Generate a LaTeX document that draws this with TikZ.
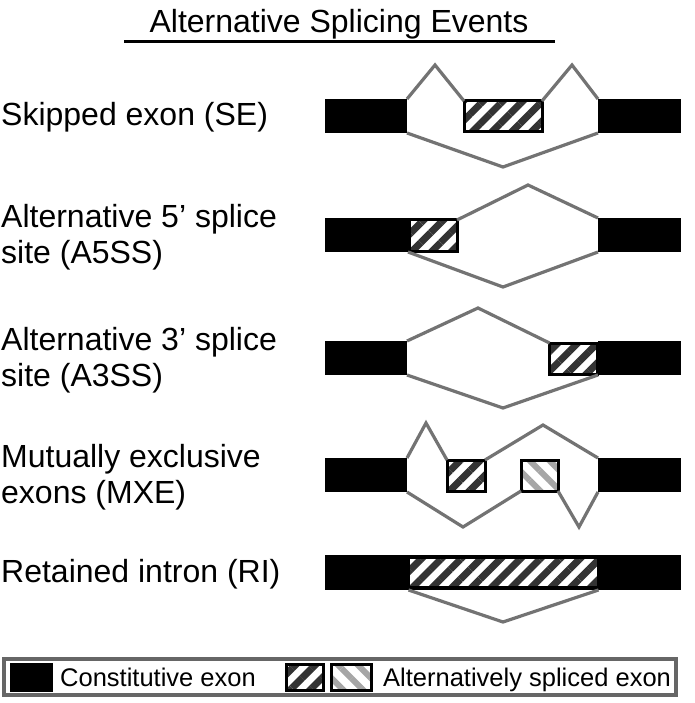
\documentclass[tikz,border=0pt]{standalone}
\usepackage{fontspec}
\setmainfont{Liberation Sans}
\usetikzlibrary{patterns.meta}

\begin{document}
\begin{tikzpicture}[x=1pt,y=-1pt,
  exon/.style={fill=black,inner sep=0pt,outer sep=0pt,minimum height=34pt},
  altexon/.style={draw=black,line width=3pt,inner sep=0pt,outer sep=0pt,minimum height=31pt,
    preaction={fill=white},pattern={Lines[angle=45,distance=14pt,line width=7pt]},pattern color=black!80},
  altexonb/.style={altexon,pattern={Lines[angle=-45,distance=14pt,line width=6pt]},pattern color=black!35},
  splice/.style={draw=black!55,line width=3.2pt},
  evtext/.style={anchor=base west,inner sep=0pt,align=left,font=\fontsize{32}{36.6}\selectfont}]
\useasboundingbox (0,0) rectangle (694,703);

%Draw title
\node[anchor=base,inner sep=0pt,font=\fontsize{32}{36}\selectfont] (title) at (339,33) {Alternative Splicing Events};
\draw[line width=3pt] (124,42) -- (555,42);

%Draw event names (base is the last line)
\node[evtext] (tse) at (1,126) {Skipped exon (SE)};
\node[evtext] (ta5) at (1,263.6) {Alternative 5’ splice\\site (A5SS)};
\node[evtext] (ta3) at (1,386.6) {Alternative 3’ splice\\site (A3SS)};
\node[evtext] (tmx) at (1,503.6) {Mutually exclusive\\exons (MXE)};
\node[evtext] (tri) at (1,582) {Retained intron (RI)};

%Skipped exon
\node[exon,minimum width=82pt] (se1) at (366,116) {};
\node[exon,minimum width=83pt] (se2) at (639.5,116) {};
\node[altexon,minimum width=78pt] (sealt) at (503,116.5) {};
\coordinate (sepk1) at (435,65);
\coordinate (sepk2) at (572,65);
\coordinate (sedn) at (503,167);
\draw[splice] (se1.north east) -- (sepk1) -- (sealt.north west);
\draw[splice] (sealt.north east) -- (sepk2) -- (se2.north west);
\draw[splice] (se1.south east) -- (sedn) -- (se2.south west);

%Alternative 5' splice site
\node[exon,minimum width=83pt] (a5e1) at (366.5,235) {};
\node[exon,minimum width=83pt] (a5e2) at (639.5,235) {};
\node[altexon,minimum width=48pt] (a5alt) at (433,235.5) {};
\coordinate (a5up) at (528,185);
\coordinate (a5dn) at (503,287);
\draw[splice] (a5alt.north east) -- (a5up) -- (a5e2.north west);
\draw[splice] (a5e1.south east) -- (a5dn) -- (a5e2.south west);

%Alternative 3' splice site
\node[exon,minimum width=82pt] (a3e1) at (366,358) {};
\node[exon,minimum width=83pt] (a3e2) at (639.5,358) {};
\node[altexon,minimum width=48pt] (a3alt) at (573.5,358.5) {};
\coordinate (a3up) at (478,308);
\coordinate (a3dn) at (503,408);
\draw[splice] (a3e1.north east) -- (a3up) -- (a3alt.north west);
\draw[splice] (a3e1.south east) -- (a3dn) -- (a3e2.south west);

%Mutually exclusive exons
\node[exon,minimum width=82pt] (mxe1) at (366,475) {};
\node[exon,minimum width=83pt] (mxe2) at (639.5,475) {};
\node[altexon,minimum width=38pt] (mxalt1) at (466,475.5) {};
\node[altexonb,minimum width=37pt] (mxalt2) at (539.5,475.5) {};
\coordinate (mxup1) at (426,423);
\coordinate (mxup2) at (543,425);
\coordinate (mxdn1) at (463,527);
\coordinate (mxdn2) at (579,527);
\draw[splice] (mxe1.north east) -- (mxup1) -- (mxalt1.north west);
\draw[splice] (mxalt1.north east) -- (mxup2) -- (mxe2.north west);
\draw[splice] (mxe1.south east) -- (mxdn1) -- (mxalt2.south west);
\draw[splice] (mxalt2.south east) -- (mxdn2) -- (mxe2.south west);

%Retained intron
\node[exon,minimum width=356pt,minimum height=35pt] (rie) at (503,572.5) {};
\node[altexon,minimum width=190pt,minimum height=30pt] (rialt) at (503.5,572.5) {};
\coordinate (ridn) at (503,622);
\draw[splice] (rialt.south west |- rie.south) -- (ridn) -- (rialt.south east |- rie.south);

%Draw legend
\node[draw=black!60,line width=4pt,inner sep=0pt,minimum width=672pt,minimum height=36pt] (legend) at (340,677) {};
\node[exon,minimum width=43pt,minimum height=29pt] (lgconst) at (31.5,677.5) {};
\node[anchor=base west,inner sep=0pt,font=\fontsize{25.5}{30}\selectfont] (lgconsttxt) at (60,686) {Constitutive exon};
\node[altexon,minimum width=37pt,minimum height=26pt] (lgalt1) at (305,677.5) {};
\node[altexonb,minimum width=40pt,minimum height=26pt] (lgalt2) at (351.5,677.5) {};
\node[anchor=base west,inner sep=0pt,font=\fontsize{25.5}{30}\selectfont] (lgalttxt) at (383,686) {Alternatively spliced exon};
\end{tikzpicture}
\end{document}
